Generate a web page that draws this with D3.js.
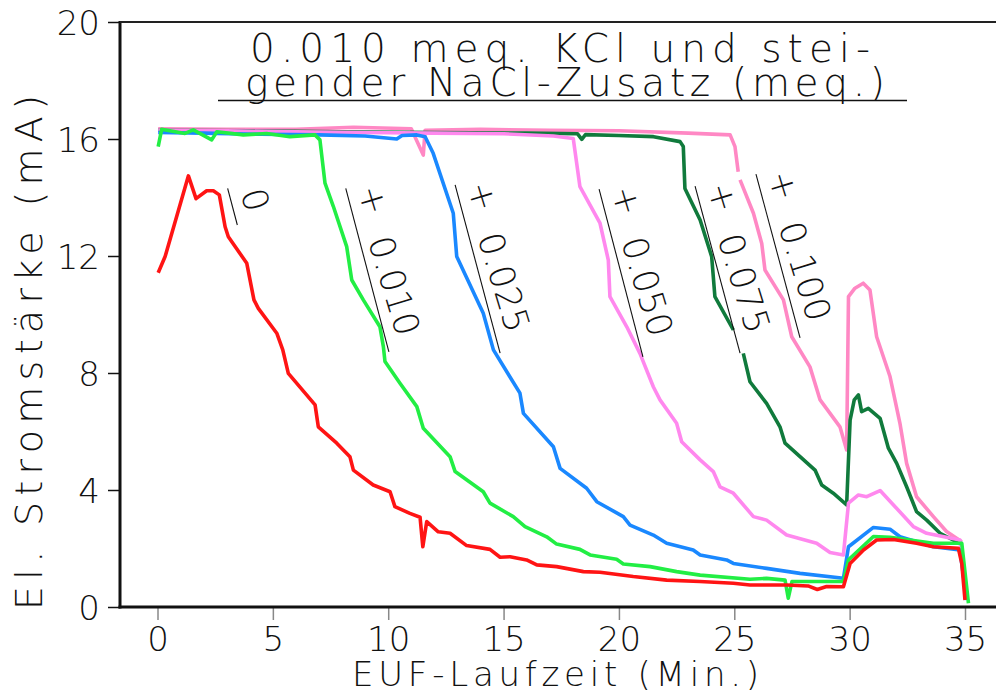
<!DOCTYPE html>
<html><head><meta charset="utf-8">
<script src="https://cdn.jsdelivr.net/npm/d3@7"></script>
<style>
html,body{margin:0;padding:0;background:#fff;}
svg{display:block;}
text{font-family:"DejaVu Sans",sans-serif;font-weight:200;fill:#111;}
</style></head>
<body>
<svg id="chart" width="996" height="694"></svg>
<script>
// ---------- DATA ----------
const seriesNames = ["0", "+ 0.010", "+ 0.025", "+ 0.050", "+ 0.075", "+ 0.100"];
const xTicks = [0, 5, 10, 15, 20, 25, 30, 35];
const yTicks = [0, 4, 8, 12, 16, 20];

// "0" (red)
const t0 = [0.03,0.33,1.34,1.67,2.13,2.42,2.68,2.93,3.07,3.87,4.18,4.37,5.17,5.43,5.67,6.83,6.97,7.77,8.34,8.49,9.35,10.08,10.29,10.94,11.38,11.5,11.67,12.17,12.68,13.4,14.41,14.85,15.28,16.0,16.44,17.3,18.46,19.18,20.62,22.07,23.51,24.96,25.68,27.27,28.2,28.6,29.0,29.73,30.02,30.6,31.17,31.9,32.9,33.63,34.71,34.86,35.0];
const i0 = [11.43,11.98,14.74,13.96,14.23,14.23,14.09,13.0,12.66,11.75,10.5,10.21,9.36,8.79,7.99,6.91,6.16,5.6,5.14,4.68,4.17,3.94,3.43,3.2,3.07,2.06,2.92,2.57,2.52,2.1,1.97,1.7,1.72,1.61,1.44,1.38,1.21,1.19,1.04,0.92,0.87,0.81,0.75,0.75,0.72,0.6,0.7,0.69,1.49,1.95,2.29,2.31,2.18,2.06,2.01,1.49,0.24];

// "+ 0.010" (green)
const t1 = [0.03,0.18,1.19,1.55,2.35,2.57,3.72,4.73,5.74,6.83,7.04,7.26,7.62,8.2,8.42,8.92,9.64,9.79,9.86,10.51,11.24,11.52,12.68,12.9,14.12,14.41,15.42,15.93,16.87,17.3,18.31,18.75,19.9,20.19,21.35,22.5,23.52,25.68,26.4,27.2,27.34,27.5,29.73,29.95,31.03,31.75,33.63,34.86,35.15];
const i1 = [15.74,16.33,16.19,16.31,15.97,16.25,16.14,16.19,16.08,16.14,15.97,14.49,13.7,12.32,11.18,10.5,9.58,8.9,8.39,7.65,6.85,6.11,5.14,4.63,3.94,3.55,3.09,2.75,2.4,2.15,1.97,1.78,1.63,1.47,1.38,1.21,1.09,0.95,0.98,0.92,0.3,0.87,0.87,1.61,2.41,2.38,2.18,2.18,0.13];

// "+ 0.025" (blue)
const t2 = [0.03,2.0,4.5,7.0,9.0,10.37,10.6,11.24,11.6,11.95,12.82,12.97,14.12,14.56,15.71,15.86,17.16,17.45,18.6,19.04,20.19,20.48,21.49,22.07,23.22,23.52,24.67,24.96,26.4,27.85,29.73,29.95,31.03,31.75,32.18,33.63,34.78,35.07];
const i2 = [16.22,16.2,16.16,16.14,16.1,16.0,16.12,16.14,16.08,15.51,13.46,11.98,10.04,8.79,7.31,6.62,5.48,4.74,4.06,3.6,3.09,2.8,2.46,2.18,1.95,1.78,1.61,1.49,1.32,1.15,0.98,2.06,2.72,2.66,2.4,2.06,1.95,0.24];

// "+ 0.050" (violet)
const t3 = [0.03,3.0,6.0,9.0,12.0,15.0,17.16,18.02,18.31,19.18,19.54,19.61,20.34,20.91,21.49,21.78,22.5,22.72,23.52,24.09,24.38,24.96,25.83,26.4,27.27,28.57,29.15,29.73,29.95,30.38,30.74,31.32,31.9,32.76,33.34,34.78,35.05];
const i3 = [16.3,16.28,16.25,16.22,16.2,16.18,16.1,16.02,14.37,13.12,11.86,10.61,9.58,8.67,7.53,7.08,6.28,5.65,5.03,4.63,4.11,3.89,3.09,2.97,2.46,2.18,1.86,1.78,3.55,3.83,3.77,3.98,3.49,2.75,2.52,2.29,0.3];

// "+ 0.075" (dark green)
const t4 = [0.03,4.0,8.0,12.0,16.0,18.2,18.39,18.55,20.0,21.5,22.65,22.79,22.86,23.52,24.02,24.16,24.96,25.2,25.39,25.68,26.4,26.98,27.2,27.85,28.5,28.79,29.29,29.87,30.02,30.2,30.38,30.52,30.81,31.32,31.68,32.04,32.47,32.9,33.34,33.92,34.49,34.86];
const i4 = [16.3,16.28,16.25,16.22,16.2,16.18,15.99,16.15,16.12,16.08,15.91,15.74,14.31,13.23,11.98,10.61,9.47,null,8.67,7.7,6.96,6.16,5.6,5.14,4.68,4.17,3.89,3.49,6.39,7.08,7.25,6.68,6.79,6.45,5.43,4.91,4.11,3.26,2.97,2.52,2.29,2.18];

// "+ 0.100" (pink)
const t5 = [0.03,3.0,6.0,8.5,11.0,11.52,11.6,14.0,17.0,20.0,23.0,24.82,25.03,25.17,25.21,25.25,25.83,26.19,26.33,27.13,27.49,28.28,28.72,29.58,29.87,29.95,30.23,30.59,30.88,31.17,31.75,32.18,32.47,32.9,33.63,34.2,34.86];
const i5 = [16.35,16.33,16.33,16.4,16.35,15.45,16.3,16.33,16.3,16.28,16.2,16.14,15.74,14.88,null,14.6,13.46,12.43,11.52,10.5,9.24,8.21,7.08,6.16,5.37,10.61,10.9,11.07,10.84,9.24,7.88,6.28,4.91,3.77,3.09,2.58,2.23];

const seriesT = [t0, t1, t2, t3, t4, t5];
const seriesI = [i0, i1, i2, i3, i4, i5];

// ---------- STYLE / LAYOUT ----------
const colors = ["#ff1414", "#22ee44", "#1a88ff", "#ff88ee", "#107a3c", "#ff88c4"];
const drawOrder = [5, 4, 3, 2, 1, 0];
// label guide lines (data coordinates of top and bottom of each guide)
const guideTop = [[3.04,14.31],[8.16,14.31],[12.9,14.43],[19.14,14.29],[23.3,14.39],[25.94,14.8]];
const guideEnd = [[3.46,13.06],[10.03,8.72],[14.85,8.68],[21.04,8.55],[25.25,8.68],[27.85,9.2]];

const FONT = '"DejaVu Sans",sans-serif';
const svg = d3.select("#chart");
const x = d3.scaleLinear().domain([0, 35]).range([157.5, 965]);
const y = d3.scaleLinear().domain([0, 20]).range([607, 22]);
const axLeft = 120, axRight = 996, axTop = 22, axBottom = 607;

// title
const title = svg.append("g");
title.append("text").attr("x", 250).attr("y", 62).attr("font-size", 39)
  .attr("textLength", 620).attr("lengthAdjust", "spacing").text("0.010 meq. KCl und stei-");
title.append("text").attr("x", 245).attr("y", 96).attr("font-size", 39)
  .attr("textLength", 640).attr("lengthAdjust", "spacing").text("gender NaCl-Zusatz (meq.)");
title.append("line").attr("x1", 218).attr("x2", 907).attr("y1", 100.5).attr("y2", 100.5)
  .attr("stroke", "#111").attr("stroke-width", 1.4);

// curves
const line = d3.line().defined(d => d[1] !== null).x(d => x(d[0])).y(d => y(d[1]));
drawOrder.forEach(k => {
  const pts = seriesT[k].map((t, j) => [t, seriesI[k][j]]);
  svg.append("path").datum(pts)
    .attr("fill", "none").attr("stroke", colors[k]).attr("stroke-width", 3.6)
    .attr("stroke-linejoin", "round").attr("stroke-linecap", "butt")
    .attr("d", line);
});

// axes
const yAxis = d3.axisLeft(y).tickValues(yTicks).tickSize(12).tickPadding(8).tickFormat(d3.format("d"));
const gy = svg.append("g").attr("transform", `translate(${axLeft},0)`).call(yAxis);
gy.select(".domain").remove();
gy.selectAll(".tick line").attr("stroke", "#111").attr("stroke-width", 1.5);
gy.selectAll(".tick text").attr("font-size", 34).attr("fill", "#111").attr("font-weight", 200)
  .attr("font-family", FONT).attr("dy", "0.36em");

const xAxis = d3.axisBottom(x).tickValues(xTicks).tickSize(13).tickPadding(7).tickFormat(d3.format("d"));
const gx = svg.append("g").attr("transform", `translate(0,${axBottom})`).call(xAxis);
gx.select(".domain").remove();
gx.selectAll(".tick line").attr("stroke", "#888").attr("stroke-width", 1.5);
gx.selectAll(".tick text").attr("font-size", 34).attr("fill", "#111").attr("font-weight", 200)
  .attr("font-family", FONT).attr("dy", "0.71em");

// frame lines
svg.append("line").attr("x1", axLeft).attr("x2", axLeft).attr("y1", axTop - 1).attr("y2", axBottom + 1.5)
  .attr("stroke", "#111").attr("stroke-width", 3);
svg.append("line").attr("x1", axLeft).attr("x2", axRight).attr("y1", axTop).attr("y2", axTop)
  .attr("stroke", "#222").attr("stroke-width", 2.2);
svg.append("line").attr("x1", axLeft - 1.5).attr("x2", axRight).attr("y1", axBottom).attr("y2", axBottom)
  .attr("stroke", "#111").attr("stroke-width", 3.2);

// axis titles
svg.append("text").attr("x", 352).attr("y", 686).attr("font-size", 34)
  .attr("textLength", 407).attr("lengthAdjust", "spacing").text("EUF-Laufzeit (Min.)");
svg.append("text").attr("transform", "translate(42,610) rotate(-90)").attr("font-size", 38)
  .attr("textLength", 515).attr("lengthAdjust", "spacing").text("El. Stromstärke (mA)");

// curve labels
seriesNames.forEach((name, k) => {
  const p0 = [x(guideTop[k][0]), y(guideTop[k][1])];
  const p1 = [x(guideEnd[k][0]), y(guideEnd[k][1])];
  const a = Math.atan2(p1[1] - p0[1], p1[0] - p0[0]);
  const u = [Math.cos(a), Math.sin(a)], n = [Math.sin(a), -Math.cos(a)];
  const deg = a * 180 / Math.PI - 2;
  svg.append("line").attr("x1", p0[0]).attr("y1", p0[1]).attr("x2", p1[0]).attr("y2", p1[1])
    .attr("stroke", "#111").attr("stroke-width", 1.1);
  const parts = name.split(" ");
  const c = [p0[0] + u[0] * 18 + n[0] * 23.5, p0[1] + u[1] * 18 + n[1] * 23.5];
  svg.append("text").attr("transform", `translate(${c[0]},${c[1]}) rotate(${deg})`)
    .attr("font-size", 35).attr("text-anchor", "middle").attr("dominant-baseline", "central")
    .text(parts[0]);
  if (parts.length > 1) {
    const s = [p0[0] + u[0] * 56 + n[0] * 8, p0[1] + u[1] * 56 + n[1] * 8];
    svg.append("text").attr("transform", `translate(${s[0]},${s[1]}) rotate(${deg})`)
      .attr("font-size", 35).attr("textLength", 102).attr("lengthAdjust", "spacing").text(parts[1]);
  }
});
</script>
</body></html>
